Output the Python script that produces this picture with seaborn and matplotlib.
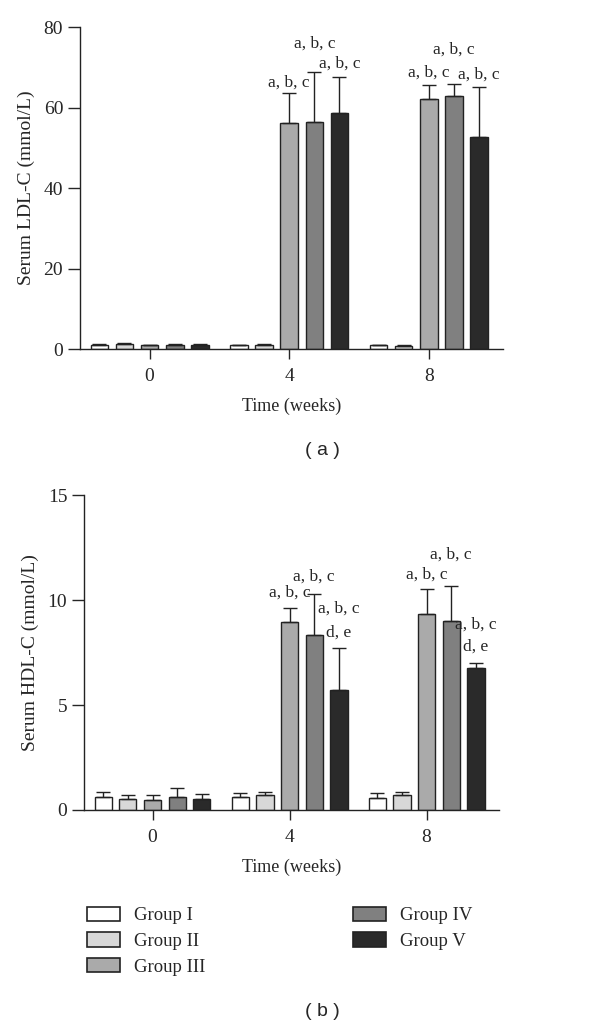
import matplotlib
matplotlib.use("Agg")
import matplotlib.pyplot as plt
import numpy as np
import pandas as pd
import seaborn as sns

sns.set_style("ticks")
plt.rcParams['font.family'] = ['Liberation Serif', 'DejaVu Serif']

weeks = ["0", "4", "8"]
groups = ["Group I", "Group II", "Group III", "Group IV", "Group V"]
colors = ["#ffffff", "#d8d8d8", "#aaaaaa", "#808080", "#2a2a2a"]

# LDL-C means and upper error (rows = groups, cols = weeks)
ldl_mean = [[1.1, 0.9, 0.9],
            [1.2, 1.0, 0.8],
            [0.9, 56.2, 62.2],
            [1.0, 56.5, 62.9],
            [1.1, 58.6, 52.6]]
ldl_sd = [[0.2, 0.2, 0.2],
          [0.2, 0.2, 0.2],
          [0.2, 7.4, 3.3],
          [0.2, 12.4, 3.0],
          [0.2, 9.0, 12.6]]

# HDL-C
hdl_mean = [[0.60, 0.60, 0.57],
            [0.54, 0.72, 0.70],
            [0.48, 8.95, 9.34],
            [0.60, 8.33, 9.03],
            [0.51, 5.70, 6.77]]
hdl_sd = [[0.27, 0.23, 0.24],
          [0.16, 0.12, 0.14],
          [0.25, 0.70, 1.20],
          [0.43, 1.98, 1.63],
          [0.24, 2.01, 0.25]]

# significance labels: (week index, group index, y, text)
ldl_labels = [(1, 2, 66.3, "a, b, c"), (1, 3, 75.8, "a, b, c"), (1, 4, 70.9, "a, b, c"),
              (2, 2, 68.6, "a, b, c"), (2, 3, 74.4, "a, b, c"), (2, 4, 68.2, "a, b, c")]
hdl_labels = [(1, 2, 10.38, "a, b, c"), (1, 3, 11.12, "a, b, c"),
              (1, 4, 9.58, "a, b, c"), (1, 4, 8.47, "d, e"),
              (2, 2, 11.23, "a, b, c"), (2, 3, 12.16, "a, b, c"),
              (2, 4, 8.85, "a, b, c"), (2, 4, 7.79, "d, e")]


def long_df(mean):
    rows = []
    for gi, g in enumerate(groups):
        for wi, w in enumerate(weeks):
            rows.append({"week": w, "group": g, "value": mean[gi][wi]})
    return pd.DataFrame(rows)


def panel(ax, mean, sd, labels, ylim, yticks, ylabel):
    df = long_df(mean)
    sns.barplot(data=df, x="week", y="value", hue="group", order=weeks,
                hue_order=groups, palette=colors, width=0.9, gap=0.3,
                edgecolor="#222222", linewidth=1.0, errorbar=None,
                legend=False, ax=ax, saturation=1)
    bar_conts = list(ax.containers)
    centers = {}
    for gi, cont in enumerate(bar_conts):
        for wi, bar in enumerate(cont):
            x = bar.get_x() + bar.get_width() / 2
            centers[(wi, gi)] = x
            ax.errorbar(x, bar.get_height(), yerr=[[0], [sd[gi][wi]]],
                        fmt="none", ecolor="#222222", elinewidth=1.0,
                        capsize=5, capthick=1.0, zorder=1)
    for wi, gi, y, txt in labels:
        ax.text(centers[(wi, gi)], y, txt, ha="center", va="center", fontsize=12.5)
    ax.set_xlim(-0.5, 2.53)
    ax.set_ylim(*ylim)
    ax.set_yticks(yticks)
    ax.set_xlabel("Time (weeks)", fontsize=13, labelpad=9)
    ax.set_ylabel(ylabel, fontsize=14, labelpad=6)
    ax.tick_params(axis="y", length=9, width=1, labelsize=14, pad=3)
    ax.tick_params(axis="x", length=7, width=1, labelsize=14, pad=7)
    for s in ["left", "bottom"]:
        ax.spines[s].set_linewidth(1.0)
        ax.spines[s].set_color("#222222")
    sns.despine(ax=ax)


fig = plt.figure(figsize=(6, 10.28), dpi=100)
ax1 = fig.add_axes([0.133, 0.6605, 0.705, 0.3132])
ax2 = fig.add_axes([0.140, 0.2121, 0.692, 0.3061])

panel(ax1, ldl_mean, ldl_sd, ldl_labels, (0, 80), [0, 20, 40, 60, 80],
      "Serum LDL-C (mmol/L)")
panel(ax2, hdl_mean, hdl_sd, hdl_labels, (0, 15), [0, 5, 10, 15],
      "Serum HDL-C (mmol/L)")

fig.text(0.537, 0.562, "( a )", ha="center", va="center", fontsize=14,
         family="Liberation Sans")
fig.text(0.537, 0.0156, "( b )", ha="center", va="center", fontsize=14,
         family="Liberation Sans")

handles = [plt.Rectangle((0, 0), 1, 1, facecolor=c, edgecolor="#222222", linewidth=1.2)
           for c in colors]
fig.legend(handles, groups, loc="upper left", bbox_to_anchor=(0.145, 0.118),
           ncol=2, frameon=False, fontsize=13.5, handlelength=1.75, handleheight=0.8,
           labelspacing=0.42, columnspacing=7.9, handletextpad=0.75,
           borderaxespad=0, borderpad=0)

fig.savefig("out.png", dpi=100)
